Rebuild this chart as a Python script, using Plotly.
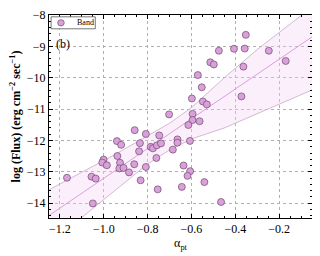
import plotly.graph_objects as go

# --- data ---
alpha_pt = [-0.352, -0.406, -0.357, -0.247, -0.170, -0.475, -0.514, -0.498, -0.363, -0.571,
            -0.553, -0.372, -0.598, -0.548, -0.530, -0.702, -0.595, -0.595, -0.563, -0.614,
            -0.859, -0.808, -0.747, -0.940, -0.921, -0.835, -0.786, -0.776, -0.758, -0.739,
            -0.664, -0.664, -0.607, -0.685, -0.839, -0.938, -1.001, -1.007, -0.986, -0.926,
            -0.929, -0.910, -0.885, -0.861, -0.808, -0.760, -0.636, -0.606, -0.618, -0.832,
            -0.541, -0.644, -0.754, -0.465, -1.168, -1.056, -1.037, -1.050]
log_flux = [-8.633, -9.076, -9.070, -9.139, -9.465, -9.139, -9.506, -9.576, -9.646, -9.915,
            -10.304, -10.595, -10.661, -10.756, -10.848, -11.168, -11.152, -11.348, -11.386, -11.506,
            -11.671, -11.791, -11.839, -12.019, -12.139, -12.085, -12.203, -12.250, -12.155, -12.092,
            -11.965, -12.070, -12.013, -12.291, -12.345, -12.494, -12.608, -12.703, -12.788, -12.709,
            -12.889, -12.873, -13.016, -12.756, -12.845, -12.557, -12.797, -12.978, -13.127, -13.269,
            -13.326, -13.478, -13.557, -13.959, -13.187, -13.152, -13.215, -14.006]

fit_x = [-1.25, -0.05]
fit_y = [-14.39, -8.70]

band_x = [-1.25, -1.1, -0.95, -0.8, -0.7, -0.6, -0.45, -0.3, -0.15, -0.05]
band_upper = [-13.57, -13.02, -12.45, -11.85, -11.45, -10.95, -10.0, -9.10, -8.28, -7.75]
band_lower = [-15.2, -14.45, -13.60, -12.75, -12.30, -11.95, -11.60, -11.15, -10.70, -10.39]

x_ticks = [-1.2, -1.0, -0.8, -0.6, -0.4, -0.2]
x_ticklabels = ["\u22121.2", "\u22121.0", "\u22120.8", "\u22120.6", "\u22120.4", "\u22120.2"]
y_ticks = [-14, -13, -12, -11, -10, -9, -8]
y_ticklabels = ["\u221214", "\u221213", "\u221212", "\u221211", "\u221210", "\u22129", "\u22128"]

legend_label = "Band"
panel_label = "(b)"

FONT = "Liberation Serif"
MARKER_FILL = "#d9a0d9"
MARKER_EDGE = "#6e4a6e"

fig = go.Figure()
fig.add_trace(go.Scatter(x=band_x, y=band_lower, mode="lines",
                         line=dict(color="rgba(205,180,205,0.9)", width=1),
                         showlegend=False, hoverinfo="skip"))
fig.add_trace(go.Scatter(x=band_x, y=band_upper, mode="lines", fill="tonexty",
                         fillcolor="rgba(242,210,242,0.35)",
                         line=dict(color="rgba(205,180,205,0.9)", width=1),
                         showlegend=False, hoverinfo="skip"))
fig.add_trace(go.Scatter(x=fit_x, y=fit_y, mode="lines",
                         line=dict(color="#dda0dd", width=1),
                         showlegend=False, hoverinfo="skip"))
fig.add_trace(go.Scatter(x=alpha_pt, y=log_flux, mode="markers", name=legend_label,
                         showlegend=False,
                         marker=dict(size=7, color=MARKER_FILL,
                                     line=dict(color=MARKER_EDGE, width=0.7))))

fig.add_annotation(x=-1.225, y=-8.93, text=panel_label, showarrow=False, xanchor="left",
                   font=dict(family=FONT, size=12, color="black"))

# hand-made small legend (box, marker, text) in paper coordinates
fig.add_shape(type="rect", xref="paper", yref="paper", x0=0.008, x1=0.176, y0=0.932, y1=0.991,
              line=dict(color="#555", width=0.8), fillcolor="white", layer="above")
fig.add_shape(type="circle", xref="paper", yref="paper", x0=0.033, x1=0.058, y0=0.946, y1=0.977,
              line=dict(color=MARKER_EDGE, width=0.7), fillcolor=MARKER_FILL, layer="above")
fig.add_annotation(xref="paper", yref="paper", x=0.099, y=0.962, text=legend_label,
                   showarrow=False, xanchor="left", yanchor="middle",
                   font=dict(family=FONT, size=8, color="black"))

common = dict(showline=True, linecolor="black", linewidth=1, mirror="allticks",
              ticks="inside", ticklen=4, tickwidth=1, tickcolor="black",
              showgrid=True, gridcolor="#b0b0b0", griddash="dot", gridwidth=0.7,
              zeroline=False, automargin=False,
              tickfont=dict(family=FONT, size=12, color="black"))

fig.update_xaxes(range=[-1.25, -0.05], tickvals=x_ticks, ticktext=x_ticklabels,
                 minor=dict(ticks="inside", ticklen=2, dtick=0.05, tick0=-1.2,
                            tickcolor="black", showgrid=False),
                 title=dict(text="\u03b1<sub>pt</sub>", font=dict(family=FONT, size=12, color="black"),
                            standoff=2),
                 **common)
fig.update_yaxes(range=[-14.47, -8.0], tickvals=y_ticks, ticktext=y_ticklabels,
                 minor=dict(ticks="inside", ticklen=2, dtick=0.2, tick0=-8,
                            tickcolor="black", showgrid=False),
                 title=dict(text="<b>log (Flux) (erg cm<sup>\u22122</sup> sec<sup>\u22121</sup>)</b>",
                            font=dict(family=FONT, size=12, color="black"), standoff=6),
                 **common)

# the page body has an 8 px default margin, so the figure is sized to fit the window
fig.update_layout(width=312, height=248, margin=dict(l=41, r=8, t=7, b=38),
                  paper_bgcolor="white", plot_bgcolor="white", showlegend=False,
                  font=dict(family=FONT))

fig.write_html("out.html")
